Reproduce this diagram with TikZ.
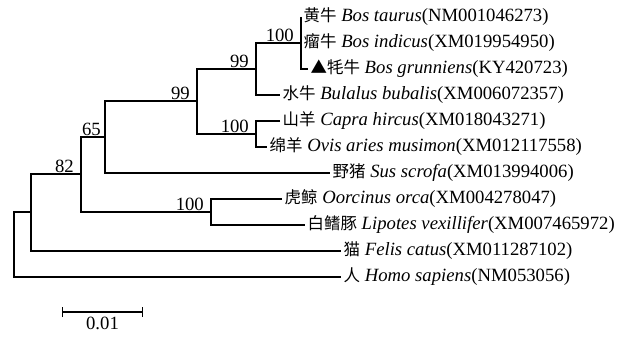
\documentclass[tikz,border=0pt]{standalone}
\usepackage{fontspec}
\setmainfont{Liberation Serif}
\newfontfamily\cjk{Noto Sans CJK SC}[Scale=0.88]
\usetikzlibrary{arrows.meta,calc}

\begin{document}
\begin{tikzpicture}[
  x=1pt, y=-1pt,
  branch/.style={line width=1.4pt},
  leaf/.style={anchor=west, inner sep=2.5pt, font=\fontsize{18.7}{21}\selectfont},
  boot/.style={anchor=south east, inner sep=1pt, xshift=-6pt,
               font=\fontsize{18.7}{21}\selectfont},
  >=Bar
]
  \useasboundingbox (0,0) rectangle (628,337);

  % Leaves (tip position, name, species, accession)
  \foreach \i/\x/\y/\zh/\sp/\acc in {
      1/301/17/黄牛/Bos taurus/NM001046273,
      2/301/43/瘤牛/Bos indicus/XM019954950,
      3/308/69/▲牦牛/Bos grunniens/KY420723,
      4/280/95/水牛/Bulalus bubalis/XM006072357,
      5/280/121/山羊/Capra hircus/XM018043271,
      6/267/147/绵羊/Ovis aries musimon/XM012117558,
      7/330/173/野猪/Sus scrofa/XM013994006,
      8/282/199/虎鲸/Oorcinus orca/XM004278047,
      9/305/225/白鳍豚/Lipotes vexillifer/XM007465972,
      10/341/251/猫/Felis catus/XM011287102,
      11/341/277/人/Homo sapiens/NM053056} {
    \coordinate (t\i) at (\x,\y);
    \node[leaf] (L\i) at (t\i) {{\cjk \zh}\ \textit{\sp}(\acc)};
  }

  % Internal nodes
  \coordinate (n100a) at (301,43);
  \coordinate (n99b)  at (256,69);
  \coordinate (n100b) at (256,134);
  \coordinate (n99a)  at (197,101);
  \coordinate (n65)   at (105,137);
  \coordinate (nW)    at (211,212);
  \coordinate (n82)   at (81,174);
  \coordinate (nA)    at (31,212);
  \coordinate (root)  at (14,245);

  % Branches
  \draw[branch] (t1) -| (n100a) |- (t3);
  \draw[branch] (n100a) -- (t2);
  \draw[branch] (n100a) -| (n99b) |- (t4);
  \draw[branch] (t5) -| (n100b) |- (t6);
  \draw[branch] (n99b) -| (n99a) |- (n100b);
  \draw[branch] (n99a) -| (n65) |- (t7);
  \draw[branch] (t8) -| (nW) |- (t9);
  \draw[branch] (n65) -| (n82) |- (nW);
  \draw[branch] (n82) -| (nA) |- (t10);
  \draw[branch] (nA) -| (root) |- (t11);

  % Bootstrap values
  \node[boot] (b100a) at (n100a) {100};
  \node[boot] (b99b)  at (n99b)  {99};
  \node[boot] (b100b) at (n100b) {100};
  \node[boot] (b99a)  at (n99a)  {99};
  \node[boot, xshift=3pt] (b65) at (n65) {65};
  \node[boot] (b82)   at (n82)   {82};
  \node[boot] (bW)    at (nW)    {100};

  % Scale bar
  \coordinate (sb1) at (62,312);
  \coordinate (sb2) at (143,312);
  \draw[branch, {Bar[width=10pt]}-{Bar[width=10pt]}] (sb1) -- (sb2);
  \node[font=\fontsize{18.7}{21}\selectfont, below=2pt] (sbl) at ($(sb1)!0.5!(sb2)$) {0.01};
\end{tikzpicture}
\end{document}
